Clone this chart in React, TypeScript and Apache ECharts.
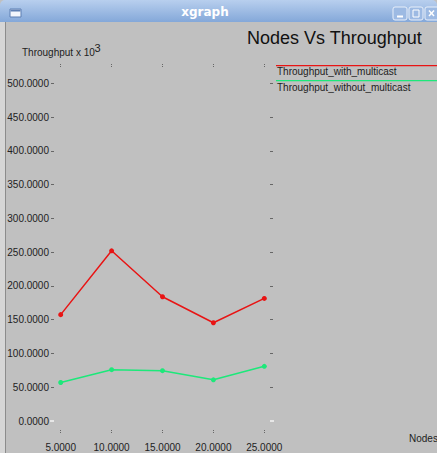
import React, { useEffect, useRef } from "react";
import * as echarts from "echarts";

const nodes = [5, 10, 15, 20, 25];
const withMulticast = [157.5, 252, 184, 145.5, 181.5];
const withoutMulticast = [57, 76, 74.5, 61, 81];
const xTicks = [5, 10, 15, 20, 25];
const yTicks = [0, 50, 100, 150, 200, 250, 300, 350, 400, 450, 500];
const seriesNames = ["Throughput_with_multicast", "Throughput_without_multicast"];

const FONT = "Liberation Sans, Arial, sans-serif";
const RED = "#e81414";
const GREEN = "#1de87a";

export default function App() {
  const ref = useRef<HTMLDivElement>(null);
  useEffect(() => {
    if (!ref.current) return;
    document.body.style.margin = "0";
    const chart = echarts.init(ref.current, null, { renderer: "svg" });
    const tickStyle = { color: "#666", width: 1, type: [1, 1] as any };
    const darkTicks = yTicks.filter((v) => v !== 0);
    const yBase = {
      type: "value" as const,
      min: -13.3,
      max: 524.1,
      axisLine: { show: false, onZero: false },
      splitLine: { show: false },
    };
    const xBase = {
      type: "value" as const,
      min: 4.342,
      max: 25.56,
      axisLine: { show: false, onZero: false },
      splitLine: { show: false },
    };
    chart.setOption({
      animation: false,
      backgroundColor: "#c0c0c0",
      textStyle: { fontFamily: FONT },
      grid: { left: 54, top: 67, width: 216, height: 363, containLabel: false },
      xAxis: [
        {
          ...xBase,
          position: "bottom",
          axisTick: { show: true, length: 3, lineStyle: tickStyle, customValues: xTicks },
          axisLabel: {
            show: true,
            customValues: xTicks,
            formatter: (v: number) => v.toFixed(4),
            fontSize: 10,
            color: "#222",
            fontFamily: FONT,
            margin: 12,
          },
        },
        {
          ...xBase,
          position: "top",
          axisTick: { show: true, length: 3, lineStyle: tickStyle, customValues: xTicks },
          axisLabel: { show: false },
        },
      ],
      yAxis: [
        {
          ...yBase,
          position: "left",
          axisTick: { show: true, length: 3, lineStyle: { color: "#666", width: 1 }, customValues: darkTicks },
          axisLabel: {
            show: true,
            customValues: yTicks,
            formatter: (v: number) => v.toFixed(4),
            fontSize: 10,
            color: "#222",
            fontFamily: FONT,
            margin: 5,
          },
        },
        {
          ...yBase,
          position: "right",
          axisTick: { show: true, length: 3, lineStyle: { color: "#666", width: 1 }, customValues: darkTicks },
          axisLabel: { show: false },
        },
        {
          ...yBase,
          position: "left",
          axisTick: { show: true, length: 4, lineStyle: { color: "#f4f4f4", width: 1.5 }, customValues: [0] },
          axisLabel: { show: false },
        },
        {
          ...yBase,
          position: "right",
          axisTick: { show: true, length: 4, lineStyle: { color: "#f4f4f4", width: 1.5 }, customValues: [0] },
          axisLabel: { show: false },
        },
      ],
      series: [
        {
          name: seriesNames[0],
          type: "line",
          data: nodes.map((x, i) => [x, withMulticast[i]]),
          symbol: "circle",
          symbolSize: 5,
          lineStyle: { color: RED, width: 1.5 },
          itemStyle: { color: RED },
        },
        {
          name: seriesNames[1],
          type: "line",
          data: nodes.map((x, i) => [x, withoutMulticast[i]]),
          symbol: "circle",
          symbolSize: 5,
          lineStyle: { color: GREEN, width: 1.5 },
          itemStyle: { color: GREEN },
        },
      ],
      graphic: [
        // window title bar
        {
          type: "rect",
          shape: { x: 0, y: 0, width: 437, height: 22, r: [5, 5, 0, 0] },
          style: {
            fill: new echarts.graphic.LinearGradient(0, 0, 0, 1, [
              { offset: 0, color: "#b8cfee" },
              { offset: 1, color: "#84a8d9" },
            ]),
          },
        },
        // left frame
        { type: "rect", shape: { x: 0, y: 22, width: 5, height: 431 }, style: { fill: "#d6d6d6" } },
        { type: "line", shape: { x1: 5.5, y1: 22, x2: 5.5, y2: 453 }, style: { stroke: "#8c8c8c", lineWidth: 1 } },
        // window icon
        { type: "rect", shape: { x: 10, y: 9, width: 11, height: 8 }, style: { fill: "#f2f6fc", stroke: "#5d7fb3", lineWidth: 1 } },
        { type: "rect", shape: { x: 10.5, y: 9.5, width: 10, height: 2 }, style: { fill: "#5d7fb3" } },
        // buttons
        { type: "rect", shape: { x: 393, y: 7, width: 14, height: 13, r: 2 }, style: { fill: "#9dbae3", stroke: "#e8effa", lineWidth: 1 } },
        { type: "rect", shape: { x: 409, y: 7, width: 14, height: 13, r: 2 }, style: { fill: "#9dbae3", stroke: "#e8effa", lineWidth: 1 } },
        { type: "rect", shape: { x: 425, y: 7, width: 14, height: 13, r: 2 }, style: { fill: "#9dbae3", stroke: "#e8effa", lineWidth: 1 } },
        { type: "line", shape: { x1: 397, y1: 16.5, x2: 403, y2: 16.5 }, style: { stroke: "#ffffff", lineWidth: 2 } },
        { type: "rect", shape: { x: 413, y: 10, width: 6, height: 7 }, style: { fill: "none", stroke: "#ffffff", lineWidth: 1 } },
        { type: "line", shape: { x1: 429, y1: 10.5, x2: 434, y2: 16 }, style: { stroke: "#ffffff", lineWidth: 1.5 } },
        { type: "line", shape: { x1: 434, y1: 10.5, x2: 429, y2: 16 }, style: { stroke: "#ffffff", lineWidth: 1.5 } },
        {
          type: "text",
          x: 205,
          y: 12,
          style: { text: "xgraph", fill: "#ffffff", font: "bold 12px DejaVu Sans, sans-serif", align: "center", verticalAlign: "middle" },
        },
        // chart title
        {
          type: "text",
          x: 247,
          y: 38,
          style: { text: "Nodes Vs Throughput", fill: "#111", font: "18px " + FONT, align: "left", verticalAlign: "middle" },
        },
        // y axis title
        {
          type: "text",
          x: 22,
          y: 52,
          style: { text: "Throughput x 10", fill: "#222", font: "10px " + FONT, align: "left", verticalAlign: "middle" },
        },
        {
          type: "text",
          x: 94.5,
          y: 48,
          style: { text: "3", fill: "#222", font: "11px " + FONT, align: "left", verticalAlign: "middle" },
        },
        // x axis title
        {
          type: "text",
          x: 409,
          y: 438,
          style: { text: "Nodes", fill: "#222", font: "10px " + FONT, align: "left", verticalAlign: "middle" },
        },
        // legend
        { type: "rect", shape: { x: 276, y: 65, width: 161, height: 1.2 }, style: { fill: RED } },
        {
          type: "text",
          x: 277,
          y: 71,
          style: { text: seriesNames[0], fill: "#222", font: "10px " + FONT, align: "left", verticalAlign: "middle" },
        },
        { type: "rect", shape: { x: 276, y: 80, width: 161, height: 1.2 }, style: { fill: GREEN } },
        {
          type: "text",
          x: 277,
          y: 87,
          style: { text: seriesNames[1], fill: "#222", font: "10px " + FONT, align: "left", verticalAlign: "middle" },
        },
      ],
    });
    return () => chart.dispose();
  }, []);
  return <div ref={ref} style={{ position: "fixed", left: 0, top: 0, width: 437, height: 453 }} />;
}
